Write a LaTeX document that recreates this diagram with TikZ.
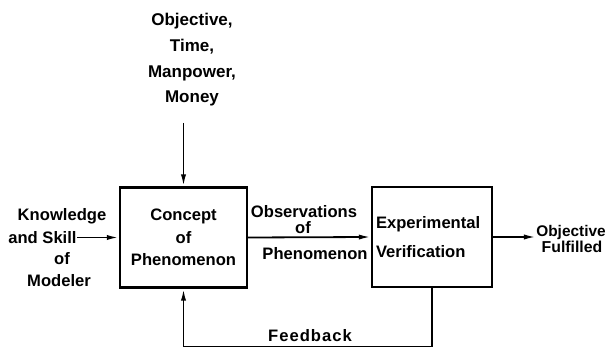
\documentclass[tikz,border=0pt]{standalone}
\usepackage{fontspec}
\setmainfont{Liberation Sans}
\usetikzlibrary{arrows.meta}

\begin{document}
\begin{tikzpicture}[x=0.5pt, y=-0.5pt,
  every node/.style={inner sep=0pt, font=\bfseries\fontsize{8.3}{10}\selectfont},
  block/.style={draw, line width=1.2pt, minimum width=#1, minimum height=50pt},
  flow/.style={-{Latex[length=6pt, width=2.6pt]}, line width=0.9pt}]
\useasboundingbox (0,0) rectangle (606,347);
% boxes
\node[block=63.5pt, align=center, font=\bfseries\fontsize{8.3}{11.25}\selectfont]
  (concept) at (183.5,237.5) {Concept\\of\\Phenomenon};
\node[block=60pt, align=left, text width=56pt, inner xsep=2pt,
  font=\bfseries\fontsize{8.3}{14.5}\selectfont]
  (verify) at (432,237) {Experimental\\Verification};
% inputs
\node[align=center, font=\bfseries\fontsize{8.5}{12.8}\selectfont]
  (limits) at (192,60) {Objective,\\Time,\\Manpower,\\Money};
\coordinate (limitsend) at (183.5,123);
\node[anchor=base] (know) at (62,221) {Knowledge};
\node[anchor=east] (skill) at (77,238) {and Skill};
\node[anchor=base] (skillof) at (62,265) {of};
\node[anchor=base] (modeler) at (59,287) {Modeler};
% labels
\node[anchor=base] (obs) at (304,218) {Observations};
\node[anchor=base] (obsof) at (303,233.5) {of};
\node[anchor=base] (phen) at (315,260) {Phenomenon};
\node[anchor=base, font=\bfseries\fontsize{7.7}{10}\selectfont] (goal) at (571,237) {Objective};
\node[anchor=base, font=\bfseries\fontsize{7.9}{10}\selectfont] (done) at (572,253) {Fulfilled};
\node[anchor=base, font=\bfseries\fontsize{8.3}{10}\selectfont\addfontfeature{LetterSpace=6}]
  (fb) at (310,342) {Feedback};
% connectors
\draw[flow] (limitsend) -- (concept.north);
\draw[flow] (skill.east |- concept.west) -- (concept.west);
\draw[flow] (concept.east) -- (verify.west);
\draw[flow] (verify.east) -- (verify.east -| goal.west);
\draw[flow] (verify.south) -- ++(0,59) -| (concept.south);
\end{tikzpicture}
\end{document}
